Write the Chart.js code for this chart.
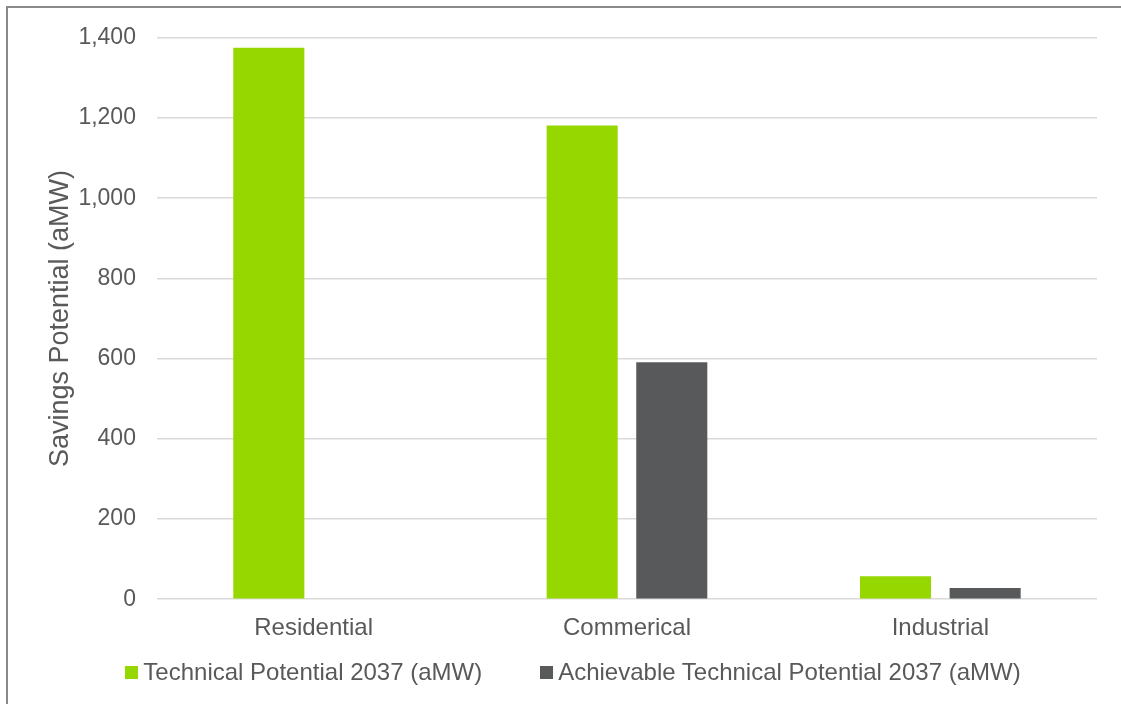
<!DOCTYPE html>
<html>
<head>
<meta charset="utf-8">
<script src="https://cdn.jsdelivr.net/npm/chart.js@4/dist/chart.umd.min.js"></script>
<style>
  html, body { margin: 0; padding: 0; background: #fff; overflow: hidden; }
  body { width: 1121px; height: 704px; position: relative; font-family: "Liberation Sans", Arial, sans-serif; }
  #frame { position: absolute; left: 6px; top: 6px; width: 1300px; height: 900px; border: 2px solid #898989; }
  #wrap { position: absolute; left: 8px; top: 3px; width: 1130px; height: 700px; }
  #legenda { position: absolute; left: 8px; top: 658px; width: 1130px; display: flex; justify-content: center; align-items: center; font-size: 24px; color: #595959; }
  .item { display: flex; align-items: center; margin: 0 29px; }
  .caixa { width: 13px; height: 13px; margin-right: 5px; }
</style>
</head>
<body>
<div id="frame"></div>
<div id="wrap"><canvas id="grafico" width="1130" height="700"></canvas></div>
<div id="legenda"></div>
<script>
// Potencial de economia por setor (aMW)
const setores = ['Residential', 'Commerical', 'Industrial'];
const tecnico2037 = [1375, 1181, 57];
const alcancavel2037 = [0, 591, 28];
const nomesSeries = ['Technical Potential 2037 (aMW)', 'Achievable Technical Potential 2037 (aMW)'];
const cores = ['#97D700', '#58595B'];
const ticksY = [0, 200, 400, 600, 800, 1000, 1200, 1400];

const corTexto = '#595959';
Chart.defaults.font.family = '"Liberation Sans", Arial, sans-serif';
Chart.defaults.color = corTexto;

const ctx = document.getElementById('grafico').getContext('2d');
new Chart(ctx, {
  type: 'bar',
  data: {
    labels: setores,
    datasets: [
      { label: nomesSeries[0], data: tecnico2037, backgroundColor: cores[0] },
      { label: nomesSeries[1], data: alcancavel2037, backgroundColor: cores[1] }
    ]
  },
  options: {
    responsive: false,
    animation: false,
    categoryPercentage: 0.572,
    barPercentage: 0.793,
    layout: { padding: { left: 29, right: 41, top: 24, bottom: 53 } },
    plugins: {
      legend: { display: false },
      tooltip: { enabled: false }
    },
    scales: {
      x: {
        grid: { display: false },
        border: { display: false },
        ticks: { font: { size: 24 }, padding: 7, color: corTexto }
      },
      y: {
        min: ticksY[0],
        max: ticksY[ticksY.length - 1],
        afterBuildTicks: scale => { scale.ticks = ticksY.map(v => ({ value: v })); },
        afterFit: scale => { scale.width -= 20; },
        grid: { color: '#d9d9d9', lineWidth: 1.5, drawTicks: false },
        border: { display: false },
        ticks: { font: { size: 23 }, padding: 21, color: corTexto },
        title: {
          display: true,
          text: 'Savings Potential (aMW)',
          font: { size: 27 },
          color: corTexto,
          padding: { top: 7, bottom: 1 }
        }
      }
    }
  }
});

// legenda em HTML, montada a partir das séries
const legenda = document.getElementById('legenda');
nomesSeries.forEach((nome, i) => {
  const item = document.createElement('div');
  item.className = 'item';
  item.innerHTML = `<span class="caixa" style="background:${cores[i]}"></span><span>${nome}</span>`;
  legenda.appendChild(item);
});
</script>
</body>
</html>
